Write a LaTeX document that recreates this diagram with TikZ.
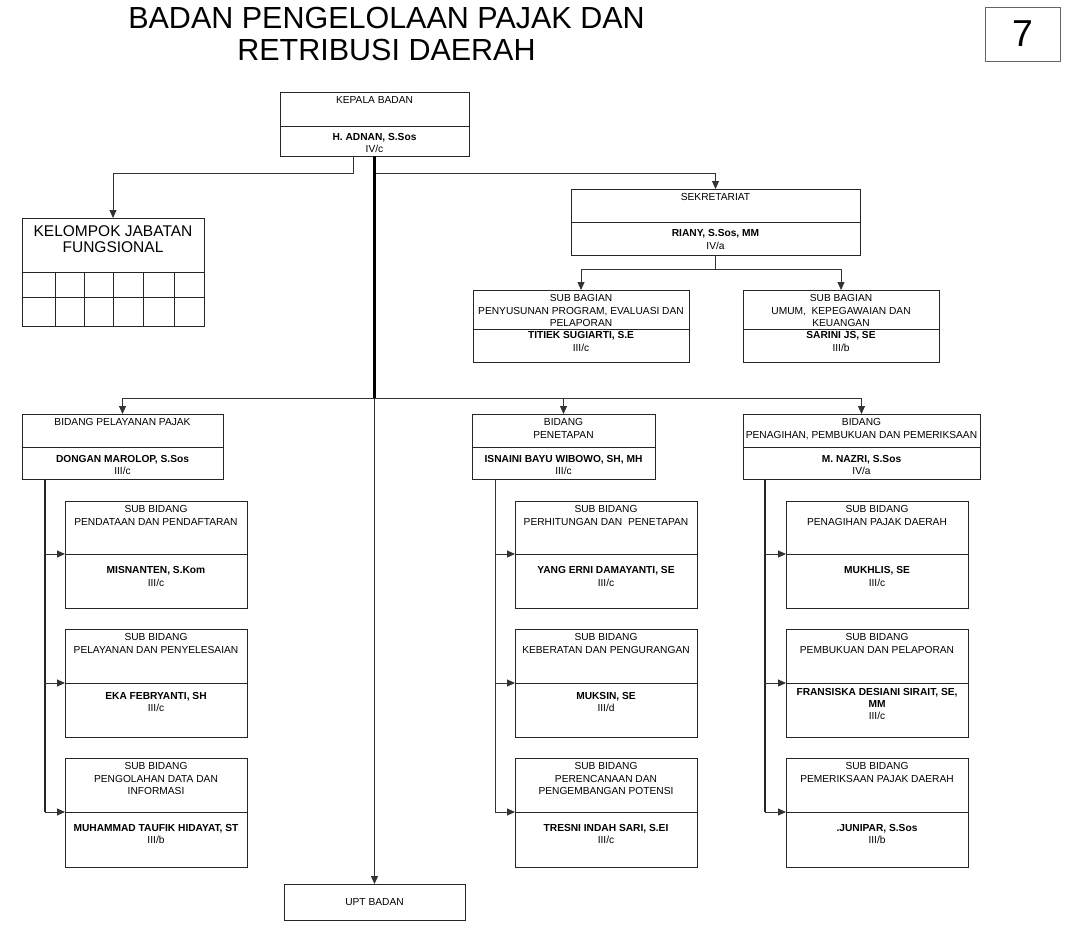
\documentclass[tikz,border=0pt]{standalone}
\usepackage{fontspec}
\setmainfont{Liberation Sans}
\usetikzlibrary{arrows.meta,positioning}

% box with a divider: name, x-left, x-right, top, divider, bottom, y of lower text, upper text, lower text
\newcommand{\orgbox}[9]{%
\pgfmathsetmacro\obX{(#2+#3)/2}
\pgfmathsetmacro\obY{(#4+#6)/2}
\pgfmathsetmacro\obW{#3-#2}
\pgfmathsetmacro\obH{#6-#4}
\node[Unit, minimum width=\obW pt, minimum height=\obH pt] (#1) at (\obX,\obY) {};
\draw[Frame] (#2,#5) -- (#3,#5);
\coordinate (#1-div) at (#2,#5);
\node[Label, anchor=north] (#1-up) at (\obX,#4+4.5) {#8};
\node[Label] (#1-low) at (\obX,#7) {#9};
}

\begin{document}
\begin{tikzpicture}[
x=1pt, y=-1pt,
Unit/.style={draw=black!85, line width=0.9pt, inner sep=0pt, outer sep=0pt},
Frame/.style={draw=black!85, line width=0.9pt},
Label/.style={inner sep=0pt, align=center, font=\fontsize{10.2}{12.3}\selectfont},
Link/.style={draw=black!80, line width=1pt},
Trunk/.style={draw=black, line width=2.4pt},
Spine/.style={draw=black!85, line width=1.8pt},
>={Triangle[length=8pt,width=7pt]}
]
\useasboundingbox (0,0) rectangle (1070,926);

% title and page number
\node[inner sep=0pt, align=center, anchor=north, font=\fontsize{30.5}{31.5}\selectfont] (judul) at (386.5,7.5) {BADAN PENGELOLAAN PAJAK DAN\\RETRIBUSI DAERAH};
\node[draw=black!60, line width=0.9pt, minimum width=75pt, minimum height=54pt, inner sep=0pt, font=\fontsize{37.5}{40}\selectfont] (nomor) at (1022.5,34) {\raisebox{-2pt}{7}};

% head and secretariat
\orgbox{kepala}{280}{469}{92}{126}{156}{143}{KEPALA BADAN}{\textbf{H. ADNAN, S.Sos}\\IV/c}
\orgbox{sekre}{571}{860}{189}{222}{255}{239.5}{SEKRETARIAT}{\textbf{RIANY, S.Sos, MM}\\IV/a}
\orgbox{subprog}{473}{689}{290}{329}{362}{341.5}{SUB BAGIAN\\PENYUSUNAN PROGRAM, EVALUASI DAN\\PELAPORAN}{\textbf{TITIEK SUGIARTI, S.E}\\III/c}
\orgbox{subumum}{743}{939}{290}{329}{362}{341.5}{SUB BAGIAN\\UMUM,\ \ KEPEGAWAIAN DAN\\KEUANGAN}{\textbf{SARINI JS, SE}\\III/b}

% functional group
\node[Unit, minimum width=182pt, minimum height=108pt] (kjf) at (113,272) {};
\node[inner sep=0pt, align=center, anchor=north, font=\fontsize{15.5}{16.7}\selectfont] (kjf-up) at (113,225) {KELOMPOK JABATAN\\FUNGSIONAL};
\draw[Frame] (22,272) -- (204,272);
\draw[Frame] (22,297) -- (204,297);
\foreach \gx in {55,84,113,143,174}
  \draw[Frame] (\gx,272) -- (\gx,326);

% fields
\orgbox{bidpel}{22}{223}{414}{447}{479}{465}{BIDANG PELAYANAN PAJAK}{\textbf{DONGAN MAROLOP, S.Sos}\\III/c}
\orgbox{bidtap}{472}{655}{414}{447}{479}{465}{BIDANG\\PENETAPAN}{\textbf{ISNAINI BAYU WIBOWO, SH, MH}\\III/c}
\orgbox{bidtagih}{743}{980}{414}{447}{479}{465}{BIDANG\\PENAGIHAN, PEMBUKUAN DAN PEMERIKSAAN}{\textbf{M. NAZRI, S.Sos}\\IV/a}

% sub fields
\orgbox{sbdata}{65}{247}{501}{554}{608}{576.5}{SUB BIDANG\\PENDATAAN DAN PENDAFTARAN}{\textbf{MISNANTEN, S.Kom}\\III/c}
\orgbox{sblayan}{65}{247}{629}{683}{737}{702}{SUB BIDANG\\PELAYANAN DAN PENYELESAIAN}{\textbf{EKA FEBRYANTI, SH}\\III/c}
\orgbox{sbolah}{65}{247}{758}{812}{867}{834}{SUB BIDANG\\PENGOLAHAN DATA DAN\\INFORMASI}{\textbf{MUHAMMAD TAUFIK HIDAYAT, ST}\\III/b}

\orgbox{sbhitung}{515}{697}{501}{554}{608}{576.5}{SUB BIDANG\\PERHITUNGAN DAN\ \ PENETAPAN}{\textbf{YANG ERNI DAMAYANTI, SE}\\III/c}
\orgbox{sbberat}{515}{697}{629}{683}{737}{702}{SUB BIDANG\\KEBERATAN DAN PENGURANGAN}{\textbf{MUKSIN, SE}\\III/d}
\orgbox{sbrencana}{515}{697}{758}{812}{867}{834}{SUB BIDANG\\PERENCANAAN DAN\\PENGEMBANGAN POTENSI}{\textbf{TRESNI INDAH SARI, S.EI}\\III/c}

\orgbox{sbtagih}{786}{968}{501}{554}{608}{576.5}{SUB BIDANG\\PENAGIHAN PAJAK DAERAH}{\textbf{MUKHLIS, SE}\\III/c}
\orgbox{sbbuku}{786}{968}{629}{683}{737}{704}{SUB BIDANG\\PEMBUKUAN DAN PELAPORAN}{\textbf{FRANSISKA DESIANI SIRAIT, SE,}\\\textbf{MM}\\III/c}
\orgbox{sbperiksa}{786}{968}{758}{812}{867}{834}{SUB BIDANG\\PEMERIKSAAN PAJAK DAERAH}{\textbf{.JUNIPAR, S.Sos}\\III/b}

% unit
\node[Unit, minimum width=181pt, minimum height=36pt] (upt) at (374.5,902) {};
\node[Label] (upt-up) at (374.5,902) {UPT BADAN};

% connectors
\coordinate (j1) at (374.5,173);
\coordinate (j3) at (374.5,398);
\coordinate (k1) at (353,156);
\draw[Link,->] (k1) |- (j1 -| kjf.north) -- (kjf.north);
\draw[Link,->] (j1) -| (sekre.north);
\draw[Trunk] (kepala.south) -- (j3);
\draw[Link,->] (j3) -- (upt.north);

\draw[Link] (sekre.south) -- ++(0,14) coordinate (j2);
\draw[Link,->] (j2) -| (subprog.north);
\draw[Link,->] (j2) -| (subumum.north);

\draw[Link,->] (j3) -| (bidpel.north);
\draw[Link,->] (j3) -| (bidtap.north);
\draw[Link,->] (j3) -| (bidtagih.north);

\coordinate (sp1) at (45,479);
\coordinate (sp2) at (495,479);
\coordinate (sp3) at (765,479);
\draw[Spine] (sp1) -- (sp1 |- sbolah-div);
\draw[Link] (sp2) -- (sp2 |- sbrencana-div);
\draw[Spine] (sp3) -- (sp3 |- sbperiksa-div);
\foreach \sb in {sbdata,sblayan,sbolah}
  \draw[Link,->] (sp1 |- \sb-div) -- (\sb-div);
\foreach \sb in {sbhitung,sbberat,sbrencana}
  \draw[Link,->] (sp2 |- \sb-div) -- (\sb-div);
\foreach \sb in {sbtagih,sbbuku,sbperiksa}
  \draw[Link,->] (sp3 |- \sb-div) -- (\sb-div);

\end{tikzpicture}
\end{document}
